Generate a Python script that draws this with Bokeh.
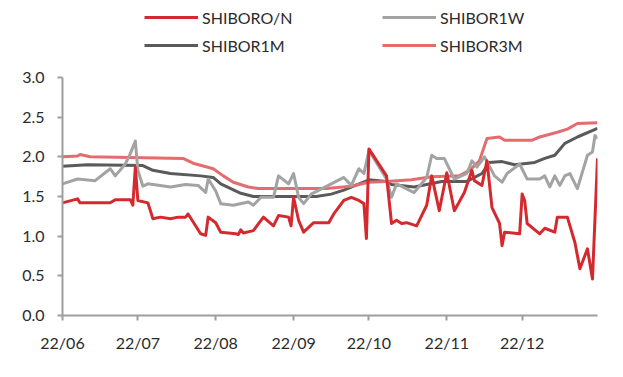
import pandas as pd
from bokeh.plotting import figure
from bokeh.layouts import column
from bokeh.models import (Legend, LegendItem, FixedTicker, DatetimeTickFormatter,
                          NumeralTickFormatter, Range1d)
from bokeh.embed import file_html
from bokeh.resources import INLINE

# ---------------- data ----------------
on_dates = ["2022-06-01", "2022-06-07", "2022-06-08", "2022-06-20", "2022-06-22", "2022-06-28",
            "2022-06-29", "2022-06-30", "2022-07-01", "2022-07-05", "2022-07-07", "2022-07-10",
            "2022-07-14", "2022-07-17", "2022-07-20", "2022-07-21", "2022-07-26", "2022-07-28",
            "2022-07-29", "2022-08-01", "2022-08-03", "2022-08-09", "2022-08-10", "2022-08-11",
            "2022-08-12", "2022-08-16", "2022-08-20", "2022-08-24", "2022-08-26", "2022-08-30",
            "2022-08-31", "2022-09-01", "2022-09-03", "2022-09-05", "2022-09-09", "2022-09-15",
            "2022-09-17", "2022-09-21", "2022-09-24", "2022-09-27", "2022-09-29", "2022-09-30",
            "2022-10-01", "2022-10-08", "2022-10-10", "2022-10-12", "2022-10-14", "2022-10-16",
            "2022-10-20", "2022-10-24", "2022-10-26", "2022-10-29", "2022-11-01", "2022-11-04",
            "2022-11-08", "2022-11-11", "2022-11-12", "2022-11-15", "2022-11-17", "2022-11-19",
            "2022-11-22", "2022-11-23", "2022-11-24", "2022-11-30", "2022-12-01", "2022-12-02",
            "2022-12-03", "2022-12-08", "2022-12-10", "2022-12-14", "2022-12-15", "2022-12-19",
            "2022-12-22", "2022-12-24", "2022-12-27", "2022-12-29", "2022-12-31"]
on_vals = [1.42, 1.47, 1.42, 1.42, 1.46, 1.46,
           1.39, 1.87, 1.45, 1.42, 1.22, 1.24,
           1.22, 1.24, 1.24, 1.28, 1.03, 1.01,
           1.24, 1.17, 1.05, 1.03, 1.02, 1.08,
           1.04, 1.07, 1.24, 1.13, 1.26, 1.24,
           1.13, 1.49, 1.20, 1.05, 1.17, 1.17,
           1.28, 1.45, 1.49, 1.45, 1.41, 0.97,
           2.10, 1.76, 1.16, 1.20, 1.16, 1.17,
           1.13, 1.39, 1.76, 1.32, 1.80, 1.32,
           1.55, 1.83, 1.70, 1.64, 1.95, 1.36,
           1.16, 0.88, 1.05, 1.03, 1.53, 1.45,
           1.16, 1.03, 1.10, 1.05, 1.24, 1.24,
           0.92, 0.59, 0.84, 0.46, 1.98]

w1_dates = ["2022-06-01", "2022-06-07", "2022-06-14", "2022-06-20", "2022-06-22", "2022-06-26",
            "2022-06-28", "2022-06-30", "2022-07-01", "2022-07-03", "2022-07-05", "2022-07-14",
            "2022-07-20", "2022-07-25", "2022-07-28", "2022-07-29", "2022-08-01", "2022-08-03",
            "2022-08-08", "2022-08-14", "2022-08-16", "2022-08-19", "2022-08-24", "2022-08-26",
            "2022-08-30", "2022-09-01", "2022-09-03", "2022-09-05", "2022-09-08", "2022-09-16",
            "2022-09-21", "2022-09-24", "2022-09-27", "2022-09-29", "2022-10-01", "2022-10-08",
            "2022-10-10", "2022-10-12", "2022-10-19", "2022-10-24", "2022-10-26", "2022-10-28",
            "2022-10-31", "2022-11-04", "2022-11-09", "2022-11-11", "2022-11-13", "2022-11-16",
            "2022-11-20", "2022-11-23", "2022-11-25", "2022-11-30", "2022-12-03", "2022-12-08",
            "2022-12-10", "2022-12-12", "2022-12-14", "2022-12-16", "2022-12-18", "2022-12-20",
            "2022-12-23", "2022-12-27", "2022-12-29", "2022-12-30", "2022-12-31"]
w1_vals = [1.66, 1.72, 1.70, 1.85, 1.76, 1.91,
           2.04, 2.20, 1.83, 1.63, 1.66, 1.62,
           1.65, 1.64, 1.55, 1.72, 1.57, 1.41,
           1.39, 1.43, 1.39, 1.49, 1.49, 1.76,
           1.66, 1.79, 1.49, 1.41, 1.53, 1.66,
           1.74, 1.64, 1.85, 1.79, 2.08, 1.72,
           1.49, 1.66, 1.55, 1.74, 2.02, 1.98,
           1.98, 1.72, 1.79, 1.95, 1.87, 2.00,
           1.76, 1.68, 1.79, 1.91, 1.72, 1.72,
           1.76, 1.62, 1.76, 1.64, 1.76, 1.79,
           1.60, 2.02, 2.06, 2.27, 2.23]

m1_dates = ["2022-06-01", "2022-06-11", "2022-07-03", "2022-07-07", "2022-07-14", "2022-07-26",
            "2022-07-31", "2022-08-03", "2022-08-07", "2022-08-11", "2022-08-16", "2022-09-10",
            "2022-09-16", "2022-09-21", "2022-10-01", "2022-10-08", "2022-10-10", "2022-10-19",
            "2022-10-30", "2022-11-09", "2022-11-15", "2022-11-18", "2022-11-23", "2022-11-28",
            "2022-12-06", "2022-12-10", "2022-12-14", "2022-12-18", "2022-12-23", "2022-12-31"]
m1_vals = [1.88, 1.90, 1.89, 1.83, 1.79, 1.76,
           1.74, 1.66, 1.60, 1.54, 1.50, 1.50,
           1.53, 1.58, 1.71, 1.69, 1.65, 1.62,
           1.69, 1.69, 1.79, 1.93, 1.94, 1.90,
           1.93, 1.98, 2.02, 2.17, 2.25, 2.36]

m3_dates = ["2022-06-01", "2022-06-07", "2022-06-08", "2022-06-12", "2022-07-19", "2022-07-23",
            "2022-07-31", "2022-08-04", "2022-08-08", "2022-08-14", "2022-08-18", "2022-09-14",
            "2022-09-24", "2022-10-01", "2022-10-08", "2022-10-18", "2022-10-26", "2022-11-06",
            "2022-11-10", "2022-11-14", "2022-11-17", "2022-11-22", "2022-11-24", "2022-12-05",
            "2022-12-08", "2022-12-15", "2022-12-19", "2022-12-23", "2022-12-31"]
m3_vals = [2.00, 2.01, 2.03, 2.00, 1.98, 1.92,
           1.85, 1.76, 1.68, 1.62, 1.60, 1.60,
           1.63, 1.68, 1.69, 1.71, 1.75, 1.76,
           1.83, 1.95, 2.23, 2.25, 2.21, 2.21,
           2.25, 2.31, 2.35, 2.42, 2.43]

series_names = ["SHIBORO/N", "SHIBOR1W", "SHIBOR1M", "SHIBOR3M"]
series_colors = ["#D42A2F", "#A3A3A3", "#5A5A5A", "#E46C6E"]

tick_dates = ["2022-06-01", "2022-07-01", "2022-08-01", "2022-09-01",
              "2022-10-01", "2022-11-01", "2022-12-01"]
x_start, x_end = "2022-06-01", "2022-12-31"
y_ticks = [0.0, 0.5, 1.0, 1.5, 2.0, 2.5, 3.0]

# ---------------- styling ----------------
FONT = "Lato"
TXT = "#2B2B2B"
AX = "#9E9E9E"

# ---------------- legend strip ----------------
lg = figure(width=607, height=67, output_backend="svg", toolbar_location=None,
            min_border=0, x_range=Range1d(0, 1), y_range=Range1d(0, 1))
lg.axis.visible = False
lg.grid.visible = False
lg.outline_line_color = None
lg.background_fill_color = "white"
lg.border_fill_color = "white"
nan = float("nan")
dummy = {}
for i in range(4):
    dummy[i] = lg.line(x=[nan, nan], y=[nan, nan], line_color=series_colors[i], line_width=3)

items = [LegendItem(label=series_names[0], renderers=[dummy[0]]),
         LegendItem(label=series_names[2], renderers=[dummy[2]]),
         LegendItem(label=series_names[1], renderers=[dummy[1]]),
         LegendItem(label=series_names[3], renderers=[dummy[3]])]
legend = Legend(items=items, location=(82, 12), ncols=2,
                orientation="vertical",
                glyph_width=54, glyph_height=20, label_height=20,
                label_width=172, label_standoff=4, spacing=8,
                padding=0, margin=0, border_line_color=None,
                background_fill_alpha=0,
                label_text_font=FONT, label_text_font_size="16px",
                label_text_color=TXT)
lg.add_layout(legend, "center")

# ---------------- main chart ----------------
p = figure(width=607, height=294, x_axis_type="datetime",
           output_backend="svg", toolbar_location=None,
           min_border_left=62, min_border_right=10,
           min_border_top=10, min_border_bottom=46)
p.x_range = Range1d(pd.Timestamp(x_start), pd.Timestamp(x_end))
p.y_range = Range1d(0, 3)
p.outline_line_color = None
p.xgrid.visible = False
p.ygrid.visible = False
p.background_fill_color = "white"
p.border_fill_color = "white"

data = [(on_dates, on_vals), (w1_dates, w1_vals), (m1_dates, m1_vals), (m3_dates, m3_vals)]
for i in [2, 3, 1, 0]:
    d, v = data[i]
    p.line(pd.to_datetime(d), v, line_color=series_colors[i], line_width=3,
           line_join="round")

tick_ms = [pd.Timestamp(t).value / 1e6 for t in tick_dates]
p.xaxis.ticker = FixedTicker(ticks=tick_ms)
fmt = "%y/%m"
p.xaxis.formatter = DatetimeTickFormatter(
    milliseconds=fmt, seconds=fmt, minsec=fmt, minutes=fmt, hourmin=fmt, hours=fmt,
    days=fmt, months=fmt, years=fmt)
p.yaxis.ticker = FixedTicker(ticks=y_ticks)
p.yaxis.formatter = NumeralTickFormatter(format="0.0")

for ax in (p.xaxis[0], p.yaxis[0]):
    ax.axis_line_color = AX
    ax.axis_line_width = 2
    ax.major_tick_line_color = AX
    ax.major_tick_line_width = 2
    ax.major_tick_out = 5
    ax.major_tick_in = 0
    ax.minor_tick_line_color = None
    ax.major_label_text_font = FONT
    ax.major_label_text_font_size = "16px"
    ax.major_label_text_color = TXT
p.xaxis.major_label_standoff = 12
p.yaxis.major_label_standoff = 13

layout = column(lg, p, spacing=0)
open("out.html", "w").write(file_html(layout, INLINE))
